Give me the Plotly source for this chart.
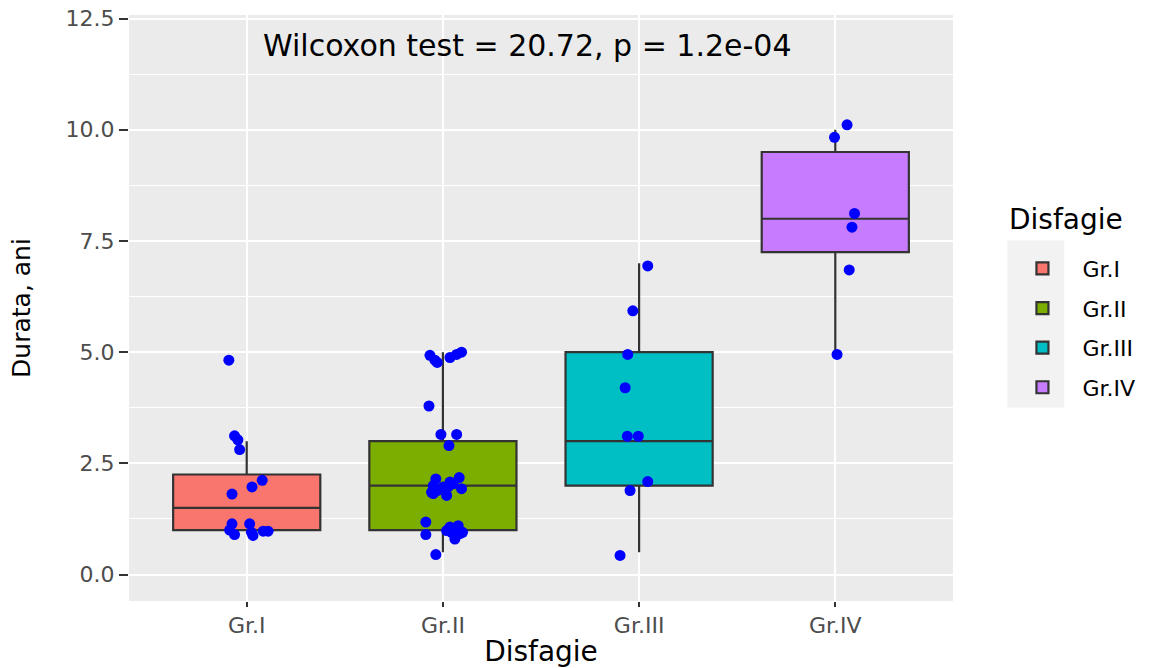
import plotly.graph_objects as go

# ---- data ----
categories = ["Gr.I", "Gr.II", "Gr.III", "Gr.IV"]
fill_colors = ["#F8766D", "#7CAE00", "#00BFC4", "#C77CFF"]

box_q1 = [1.0, 1.0, 2.0, 7.25]
box_median = [1.5, 2.0, 3.0, 8.0]
box_q3 = [2.25, 3.0, 5.0, 9.5]
box_lower = [1.0, 0.5, 0.5, 5.0]
box_upper = [3.0, 5.0, 7.0, 10.0]

# jittered points (value, horizontal jitter offset in category units)
gr1_y = [4.82, 3.12, 3.03, 2.81, 2.12, 1.97, 1.81, 1.14, 1.0, 0.9, 1.14, 0.95, 0.88, 0.975, 0.975]
gr1_dx = [-0.091, -0.062, -0.045, -0.036, 0.079, 0.027, -0.075, -0.075, -0.087, -0.062, 0.015, 0.024, 0.032, 0.084, 0.109]

gr2_y = [4.93, 4.82, 4.77, 4.88, 4.95, 5.0, 3.79, 3.15, 3.15, 2.9,
         2.15, 2.0, 1.85, 1.89, 1.78, 2.08, 2.18, 1.93, 1.97, 1.97, 2.04, 1.82,
         1.18, 0.9, 0.99, 1.07, 1.03, 1.1, 0.92, 0.80, 0.95, 0.95, 0.45]
gr2_dx = [-0.066, -0.041, -0.029, 0.036, 0.07, 0.095, -0.071, -0.01, 0.07, 0.031,
          -0.036, -0.049, -0.058, -0.029, 0.019, 0.036, 0.083, 0.095, 0.002, 0.027, 0.053, -0.049,
          -0.087, -0.087, 0.019, 0.036, 0.053, 0.078, 0.087, 0.061, 0.044, 0.10, -0.036]

gr3_y = [6.94, 5.93, 4.95, 4.2, 3.11, 3.11, 2.09, 1.89, 0.43]
gr3_dx = [0.044, -0.032, -0.058, -0.071, -0.06, -0.004, 0.044, -0.046, -0.097]

gr4_y = [10.11, 9.83, 8.12, 7.81, 6.85, 4.95]
gr4_dx = [0.06, -0.004, 0.098, 0.085, 0.071, 0.009]

points_y = [gr1_y, gr2_y, gr3_y, gr4_y]
points_dx = [gr1_dx, gr2_dx, gr3_dx, gr4_dx]

y_ticks = [0.0, 2.5, 5.0, 7.5, 10.0, 12.5]
y_minor = [1.25, 3.75, 6.25, 8.75, 11.25]
y_tick_text = ["0.0", "2.5", "5.0", "7.5", "10.0", "12.5"]

annotation_text = "Wilcoxon test = 20.72, p = 1.2e-04"
legend_title = "Disfagie"

FONT = "DejaVu Sans"

fig = go.Figure()

for i, cat in enumerate(categories):
    fig.add_trace(go.Box(
        x=[i], q1=[box_q1[i]], median=[box_median[i]], q3=[box_q3[i]],
        lowerfence=[box_lower[i]], upperfence=[box_upper[i]],
        name=cat, legendgroup=cat,
        fillcolor=fill_colors[i],
        line=dict(color="#333333", width=2.2),
        whiskerwidth=0, width=0.75, boxpoints=False,
    ))

for i, cat in enumerate(categories):
    fig.add_trace(go.Scatter(
        x=[i + d for d in points_dx[i]], y=points_y[i],
        mode="markers", marker=dict(color="#0000FF", size=11),
        showlegend=False, legendgroup=cat, hoverinfo="y",
    ))

fig.add_annotation(
    x=0.071, y=11.89, xref="x", yref="y", text=annotation_text,
    showarrow=False, xanchor="left", yanchor="middle",
    font=dict(family=FONT, size=30, color="black"),
)

# legend title
fig.add_annotation(
    x=1.066, y=0.62, xref="paper", yref="paper", text=legend_title,
    showarrow=False, xanchor="left", yanchor="bottom",
    font=dict(family=FONT, size=28, color="black"),
)

# legend key background
fig.add_shape(type="rect", xref="paper", yref="paper",
              x0=1.066, x1=1.135, y0=0.33, y1=0.615,
              fillcolor="#F2F2F2", line=dict(width=0), layer="below")

fig.update_layout(
    width=1153, height=668,
    margin=dict(l=129, r=200, t=15, b=67, pad=0),
    paper_bgcolor="white", plot_bgcolor="#EBEBEB",
    boxmode="overlay",
    font=dict(family=FONT, color="black"),
    legend=dict(
        font=dict(family=FONT, size=22, color="black"),
        x=1.06, y=0.603, xanchor="left", yanchor="top",
        bgcolor="rgba(0,0,0,0)", tracegroupgap=8, itemwidth=70,
    ),
    xaxis=dict(
        range=[-0.6, 3.6], tickmode="array", tickvals=[0, 1, 2, 3], ticktext=categories,
        showgrid=True, gridcolor="white", gridwidth=2,
        ticks="outside", ticklen=5, tickwidth=1.5, tickcolor="#333333",
        tickfont=dict(family=FONT, size=22, color="#4D4D4D"),
        title=dict(text="Disfagie", font=dict(family=FONT, size=28, color="black"), standoff=3),
        zeroline=False, showline=False, automargin=False,
    ),
    yaxis=dict(
        range=[-0.594, 12.58], tickmode="array", tickvals=y_ticks, ticktext=y_tick_text,
        showgrid=True, gridcolor="white", gridwidth=1.8,
        minor=dict(tickmode="array", tickvals=y_minor, showgrid=True, gridcolor="white", gridwidth=0.8, ticks=""),
        ticks="outside", ticklen=9, tickwidth=1.5, tickcolor="#333333",
        tickfont=dict(family=FONT, size=22, color="#4D4D4D"),
        title=dict(text="Durata, ani", font=dict(family=FONT, size=25, color="black"), standoff=27),
        zeroline=False, showline=False, automargin=False,
    ),
)

fig.write_html("out.html")
